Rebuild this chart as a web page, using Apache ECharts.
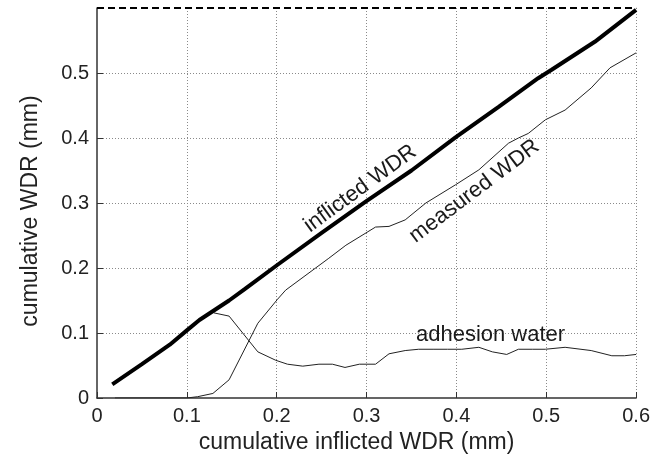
<!DOCTYPE html>
<html><head><meta charset="utf-8">
<script src="https://cdn.jsdelivr.net/npm/echarts@6/dist/echarts.min.js"></script>
<style>html,body{margin:0;padding:0;background:#fff}#c{width:653px;height:469px}</style>
</head><body><div id="c"></div>
<script>
var xTicks = [0, 0.1, 0.2, 0.3, 0.4, 0.5, 0.6];
var yTicks = [0, 0.1, 0.2, 0.3, 0.4, 0.5];

var inflictedX = [0.017, 0.05, 0.081, 0.1, 0.114, 0.147, 0.164, 0.201, 0.25, 0.299, 0.35, 0.399, 0.447, 0.491, 0.506, 0.554, 0.6];
var inflictedY = [0.021, 0.052, 0.082, 0.104, 0.12, 0.15, 0.167, 0.205, 0.254, 0.302, 0.35, 0.401, 0.448, 0.492, 0.505, 0.548, 0.597];

var measuredX = [0.02, 0.1, 0.112, 0.129, 0.147, 0.179, 0.201, 0.21, 0.258, 0.277, 0.31, 0.325, 0.343, 0.366, 0.399, 0.425, 0.458, 0.469, 0.48, 0.499, 0.521, 0.55, 0.571, 0.6];
var measuredY = [0, 0, 0.002, 0.007, 0.028, 0.115, 0.152, 0.166, 0.215, 0.235, 0.263, 0.264, 0.274, 0.300, 0.328, 0.351, 0.392, 0.40, 0.407, 0.428, 0.443, 0.477, 0.508, 0.531];

var adhesionX = [0.13, 0.147, 0.179, 0.199, 0.212, 0.229, 0.247, 0.262, 0.276, 0.292, 0.31, 0.325, 0.343, 0.358, 0.375, 0.39, 0.406, 0.425, 0.44, 0.456, 0.469, 0.485, 0.499, 0.521, 0.55, 0.573, 0.587, 0.6];
var adhesionY = [0.131, 0.126, 0.071, 0.058, 0.052, 0.049, 0.052, 0.052, 0.047, 0.052, 0.052, 0.068, 0.073, 0.075, 0.075, 0.075, 0.075, 0.078, 0.071, 0.067, 0.075, 0.075, 0.075, 0.078, 0.073, 0.065, 0.065, 0.067];

var topLineY = 0.6;

var annotations = [
  {text: 'inflicted WDR', x: 0.293, y: 0.322, rotate: 36},
  {text: 'measured WDR', x: 0.42, y: 0.318, rotate: 37},
  {text: 'adhesion water', x: 0.438, y: 0.097, rotate: 0}
];

function zip(xs, ys) { return xs.map(function (x, i) { return [x, ys[i]]; }); }

var FONT = '"Liberation Sans", Arial, Helvetica, sans-serif';
var chart = echarts.init(document.getElementById('c'));
chart.setOption({
  animation: false,
  backgroundColor: '#fff',
  grid: {left: 97, right: 15, top: 8, bottom: 71, containLabel: false},
  xAxis: {
    type: 'value', min: 0, max: 0.6, interval: 0.1,
    name: 'cumulative inflicted WDR (mm)', nameLocation: 'middle', nameGap: 32,
    nameTextStyle: {fontFamily: FONT, fontSize: 23, color: '#222', padding: [0, 20, 0, 0]},
    axisLine: {show: true, onZero: false, lineStyle: {color: '#333', width: 1.5}},
    axisTick: {show: true, inside: true, length: 6, lineStyle: {color: '#333'}},
    axisLabel: {fontFamily: FONT, fontSize: 20, color: '#222', margin: 8,
      formatter: function (v) { var i = xTicks.indexOf(Math.round(v * 10) / 10); return i >= 0 ? String(xTicks[i]) : ''; }},
    splitLine: {show: true, showMinLine: false, lineStyle: {color: '#8a8a8a', type: [1, 2], width: 1}}
  },
  yAxis: {
    type: 'value', min: 0, max: 0.6, interval: 0.1,
    name: 'cumulative WDR (mm)', nameLocation: 'middle', nameGap: 55,
    nameTextStyle: {fontFamily: FONT, fontSize: 23, color: '#222', padding: [0, 16, 0, 0]},
    axisLine: {show: true, onZero: false, lineStyle: {color: '#333', width: 1.5}},
    axisTick: {show: true, inside: true, length: 6, lineStyle: {color: '#333'}},
    axisLabel: {fontFamily: FONT, fontSize: 20, color: '#222', margin: 8, showMaxLabel: false,
      formatter: function (v) { var i = yTicks.indexOf(Math.round(v * 10) / 10); return i >= 0 ? String(yTicks[i]) : ''; }},
    splitLine: {show: true, showMinLine: false, showMaxLine: false, lineStyle: {color: '#8a8a8a', type: [1, 2], width: 1}}
  },
  series: [
    {
      name: 'measured WDR', type: 'line', data: zip(measuredX, measuredY),
      showSymbol: false, symbol: 'none', lineStyle: {color: '#222', width: 1}, z: 3
    },
    {
      name: 'adhesion water', type: 'line', data: zip(adhesionX, adhesionY),
      showSymbol: false, symbol: 'none', lineStyle: {color: '#222', width: 1}, z: 3
    },
    {
      name: 'inflicted WDR', type: 'line', data: zip(inflictedX, inflictedY),
      showSymbol: false, symbol: 'none', lineStyle: {color: '#000', width: 4}, z: 4,
      markLine: {
        silent: true, symbol: 'none', animation: false,
        label: {show: false},
        lineStyle: {color: '#000', type: [7, 4], width: 2},
        data: [{yAxis: topLineY}]
      }
    },
    {
      name: 'labels', type: 'scatter', symbolSize: 0, z: 6, silent: true,
      itemStyle: {color: '#222', opacity: 1},
      data: annotations.map(function (a) { return {value: [a.x, a.y], name: a.text,
        label: {rotate: a.rotate}}; }),
      label: {show: true, position: 'inside', formatter: function (p) { return p.name; },
        fontFamily: FONT, fontSize: 22, color: '#1a1a1a', opacity: 1,
        textBorderWidth: 0, textBorderColor: 'transparent',
        align: 'center', verticalAlign: 'middle'}
    }
  ]
});
</script></body></html>
